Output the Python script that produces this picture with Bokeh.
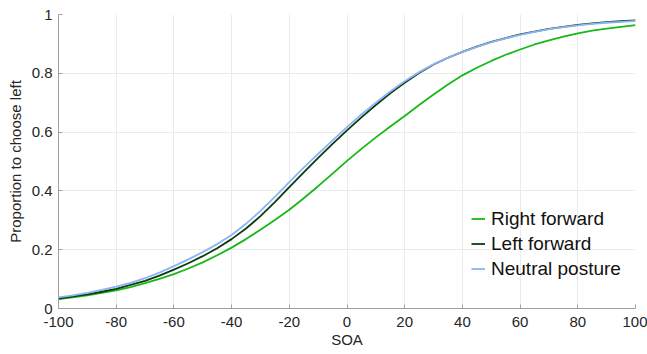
from bokeh.plotting import figure
from bokeh.models import Range1d, FixedTicker, Legend, LegendItem
from bokeh.embed import file_html
from bokeh.resources import INLINE

# ---- data ----
soa = [-100, -95, -90, -85, -80, -75, -70, -65, -60, -55, -50, -45, -40, -35, -30, -25, -20,
       -15, -10, -5, 0, 5, 10, 15, 20, 25, 30, 35, 40, 45, 50, 55, 60, 65, 70, 75, 80,
       85, 90, 95, 100]
right_forward = [0.032, 0.038, 0.045, 0.053, 0.062, 0.073, 0.086, 0.101, 0.117, 0.136, 0.157,
                 0.181, 0.207, 0.236, 0.268, 0.301, 0.336, 0.375, 0.416, 0.459, 0.502,
                 0.543, 0.582, 0.619, 0.655, 0.692, 0.728, 0.762, 0.793, 0.819, 0.842,
                 0.863, 0.881, 0.898, 0.912, 0.925, 0.936, 0.945, 0.952, 0.958, 0.964]
left_forward = [0.034, 0.041, 0.048, 0.057, 0.067, 0.080, 0.094, 0.112, 0.132, 0.154, 0.178,
                0.205, 0.236, 0.272, 0.314, 0.362, 0.413, 0.463, 0.512, 0.560, 0.606,
                0.650, 0.692, 0.732, 0.768, 0.801, 0.830, 0.853, 0.873, 0.891, 0.907,
                0.920, 0.932, 0.942, 0.951, 0.958, 0.965, 0.970, 0.974, 0.977, 0.980]
neutral_posture = [0.038, 0.045, 0.053, 0.063, 0.074, 0.087, 0.103, 0.122, 0.144, 0.167, 0.192,
                   0.219, 0.250, 0.288, 0.332, 0.380, 0.430, 0.479, 0.526, 0.572, 0.617,
                   0.660, 0.700, 0.738, 0.773, 0.804, 0.831, 0.853, 0.873, 0.890, 0.906,
                   0.919, 0.931, 0.941, 0.950, 0.957, 0.963, 0.968, 0.972, 0.975, 0.978]
series_names = ["Right forward", "Left forward", "Neutral posture"]
x_ticks = [-100, -80, -60, -40, -20, 0, 20, 40, 60, 80, 100]
x_tick_labels = ["-100", "-80", "-60", "-40", "-20", "0", "20", "40", "60", "80", "100"]
y_ticks = [0, 0.2, 0.4, 0.6, 0.8, 1]
y_tick_labels = ["0", "0.2", "0.4", "0.6", "0.8", "1"]

colors = ["#18b818", "#0f3a0f", "#8ab4f8"]
FONT = "Liberation Sans"

p = figure(width=647, height=354, output_backend="svg", toolbar_location=None,
           x_range=Range1d(-100, 100), y_range=Range1d(0, 1),
           min_border_left=58, min_border_right=12, min_border_top=14, min_border_bottom=46)
p.outline_line_color = None
p.background_fill_color = "white"

renderers = []
for ys, c in zip([right_forward, left_forward, neutral_posture], colors):
    r = p.line(soa, ys, line_color=c, line_width=1.8, line_join="round")
    renderers.append(r)

# grid
for g in (p.xgrid, p.ygrid):
    g.grid_line_color = "#ebebeb"
    g.grid_line_width = 1
p.xgrid.ticker = FixedTicker(ticks=x_ticks)
p.ygrid.ticker = FixedTicker(ticks=y_ticks)

# axes
p.xaxis.ticker = FixedTicker(ticks=x_ticks)
p.yaxis.ticker = FixedTicker(ticks=y_ticks)
p.xaxis.major_label_overrides = {t: l for t, l in zip(x_ticks, x_tick_labels)}
p.yaxis.major_label_overrides = {t: l for t, l in zip(y_ticks, y_tick_labels)}
p.xaxis.axis_label = "SOA"
p.yaxis.axis_label = "Proportion to choose left"
for ax in (p.xaxis[0], p.yaxis[0]):
    ax.axis_line_color = "#a0a0a0"
    ax.axis_line_width = 1
    ax.major_tick_line_color = "#a0a0a0"
    ax.major_tick_in = 4
    ax.major_tick_out = 0
    ax.minor_tick_line_color = None
    ax.major_label_text_font = FONT
    ax.major_label_text_font_size = "15px"
    ax.major_label_text_color = "#262626"
    ax.axis_label_text_font = FONT
    ax.axis_label_text_font_size = "15px"
    ax.axis_label_text_font_style = "normal"
    ax.axis_label_text_color = "#262626"
p.xaxis.major_label_standoff = 8
p.xaxis.axis_label_standoff = 1
p.yaxis.major_label_standoff = 6
p.yaxis.axis_label_standoff = 5

legend = Legend(items=[LegendItem(label=n, renderers=[r]) for n, r in zip(series_names, renderers)],
                location=(413, 27), padding=0, margin=0, spacing=0,
                glyph_width=14, glyph_height=25, label_height=25, label_standoff=6,
                border_line_color=None, background_fill_alpha=0,
                label_text_font=FONT, label_text_font_size="19px", label_text_color="#111111")
p.add_layout(legend, "center")

open("out.html", "w").write(file_html(p, INLINE))
